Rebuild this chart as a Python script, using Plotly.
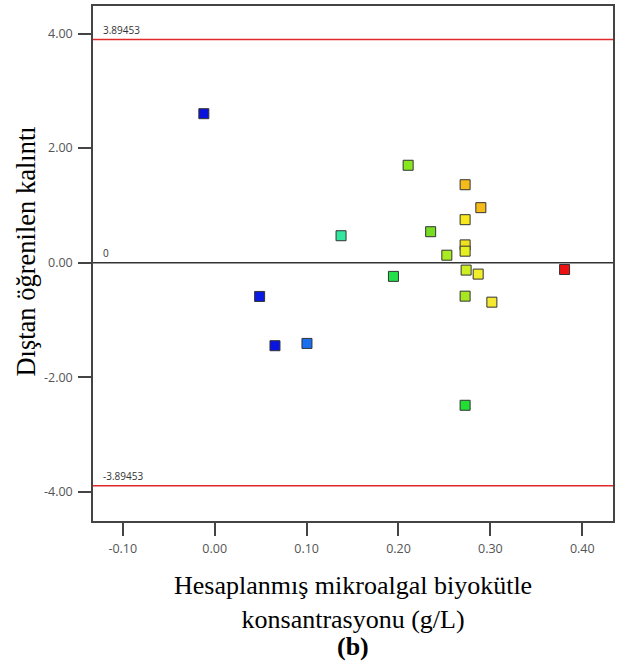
import plotly.graph_objects as go

# Data
predicted = [-0.0118, 0.0489, 0.0656, 0.1004, 0.1375, 0.1945, 0.2105, 0.2350, 0.2526,
             0.2725, 0.2896, 0.2725, 0.2725, 0.2725, 0.2736, 0.2867, 0.3807, 0.2725,
             0.3016, 0.2725]
residual = [2.60, -0.59, -1.45, -1.41, 0.47, -0.24, 1.70, 0.54, 0.13,
            1.36, 0.96, 0.75, 0.31, 0.20, -0.13, -0.20, -0.12, -0.585,
            -0.69, -2.49]
limit_upper = 3.89453
limit_lower = -3.89453
x_ticks = [-0.10, 0.00, 0.10, 0.20, 0.30, 0.40]
y_ticks = [-4.00, -2.00, 0.00, 2.00, 4.00]

# Style: per-point marker colours (blue -> green -> yellow -> red gradient)
point_colors = ["#0b12d9", "#0a1ae0", "#0a14e0", "#1a6ff0", "#33e6a0", "#22e04a",
                "#88e820", "#77dd22", "#aaec22", "#f5bb1a", "#f5bb1a", "#f7e81c",
                "#f0e020", "#e6f020", "#ccee22", "#f2ee2a", "#ee1111", "#a8e622",
                "#f5e830", "#22e033"]

fig = go.Figure()
fig.add_trace(go.Scatter(
    x=predicted, y=residual, mode="markers",
    marker=dict(symbol="square", size=10, color=point_colors,
                line=dict(color="#333333", width=1)),
    showlegend=False, hoverinfo="x+y"))

# Reference lines
for yv, col in [(limit_upper, "#e02a2a"), (limit_lower, "#e02a2a"), (0, "#333333")]:
    fig.add_shape(type="line", xref="paper", x0=0, x1=1, yref="y", y0=yv, y1=yv,
                  line=dict(color=col, width=1.5), layer="below")

small = dict(family="Open Sans, DejaVu Sans, sans-serif", size=10, color="#333333")
for yv, txt in [(limit_upper, "3.89453"), (0, "0"), (limit_lower, "-3.89453")]:
    fig.add_annotation(xref="paper", x=0.0148, xanchor="left", yref="y", y=yv,
                       yanchor="bottom", yshift=1, text=txt, showarrow=False, font=small)

serif = "Liberation Serif, Times New Roman, serif"
fig.add_annotation(xref="paper", yref="paper", x=-0.128, y=0.524, xanchor="center",
                   yanchor="middle", textangle=-90, showarrow=False,
                   text="Dıştan öğrenilen kalıntı",
                   font=dict(family=serif, size=26.5, color="black"))
fig.add_annotation(xref="paper", yref="paper", x=0.5, y=-0.094, xanchor="center",
                   yanchor="top", showarrow=False, align="center",
                   text="Hesaplanmış mikroalgal biyokütle<br>konsantrasyonu (g/L)",
                   font=dict(family=serif, size=26, color="black"))
fig.add_annotation(xref="paper", yref="paper", x=0.5, y=-0.2437, xanchor="center",
                   yanchor="middle", showarrow=False, text="<b>(b)</b>",
                   font=dict(family=serif, size=26, color="black"))

tickfont = dict(family="Open Sans, DejaVu Sans, sans-serif", size=12.5, color="#555555")
fig.update_xaxes(range=[-0.1324, 0.4334], tickvals=x_ticks,
                 ticktext=[f"{v:.2f}" for v in x_ticks], ticks="outside", ticklen=13,
                 tickcolor="#444444", tickwidth=1.5, showline=True, linecolor="#444444",
                 linewidth=1.5, mirror=True, showgrid=False, zeroline=False,
                 tickfont=tickfont, ticklabelstandoff=2)
fig.update_yaxes(range=[-4.51, 4.48], tickvals=y_ticks,
                 ticktext=[f"{v:.2f}" for v in y_ticks], ticks="outside", ticklen=13,
                 tickcolor="#444444", tickwidth=1.5, showline=True, linecolor="#444444",
                 linewidth=1.5, mirror=True, showgrid=False, zeroline=False,
                 tickfont=tickfont, ticklabelstandoff=3)
fig.update_layout(width=620, height=670, margin=dict(l=93, r=7, t=4, b=149),
                  plot_bgcolor="white", paper_bgcolor="white")
fig.write_html("out.html")
